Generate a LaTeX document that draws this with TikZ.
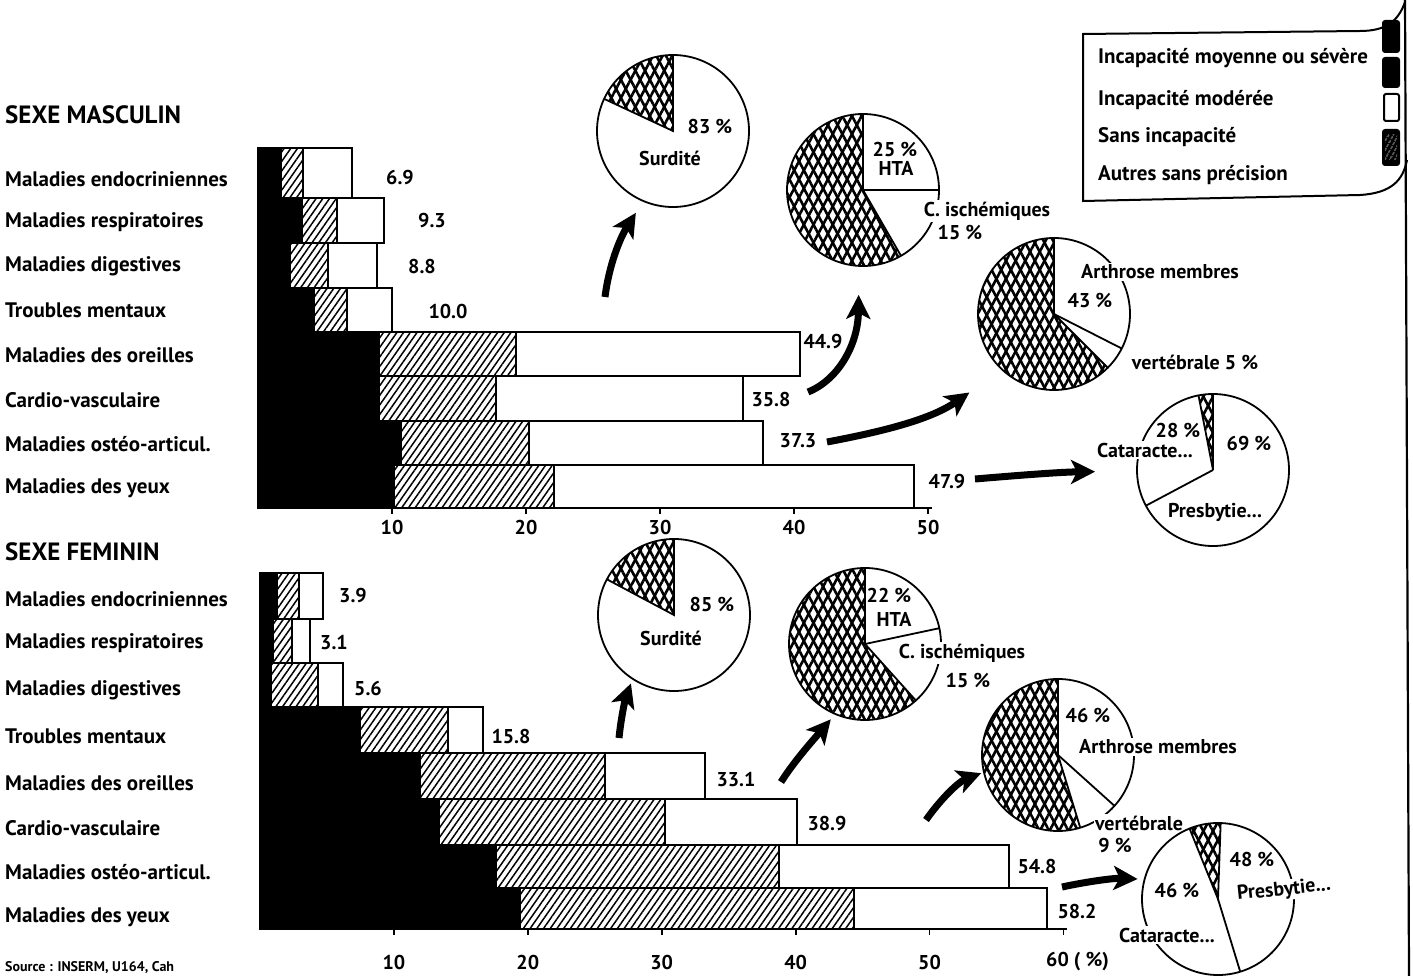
\documentclass[tikz,border=0pt]{standalone}
\usepackage{fontspec}
\setmainfont{PT Sans}
\usetikzlibrary{patterns.meta,arrows.meta}
\newcommand\xwedge[4]{%
  \fill[pattern={Lines[angle=62,distance=8.5pt,line width=2.6pt]}] (#1) -- ++(#2:#4) arc[start angle=#2,end angle=#3,radius=#4] -- cycle;
  \fill[pattern={Lines[angle=-62,distance=8.5pt,line width=2.6pt]}] (#1) -- ++(#2:#4) arc[start angle=#2,end angle=#3,radius=#4] -- cycle;}
\begin{document}
\begin{tikzpicture}[x=1pt,y=-1pt,
  txt/.style={font=\bfseries\fontsize{20}{22}\selectfont, inner sep=0pt},
  lbl/.style={font=\bfseries\fontsize{21}{23}\selectfont, inner sep=0pt, anchor=west},
  head/.style={font=\bfseries\fontsize{25}{27}\selectfont, inner sep=0pt, anchor=west},
  cut/.style={txt, fill=white, inner sep=1.5pt},
  barline/.style={line width=1.8pt},
  hatch/.style={pattern={Lines[angle=55,distance=5.5pt,line width=1.5pt]}},
  pienode/.style={circle, draw, fill=white, line width=1.8pt, minimum size=152pt, inner sep=0pt, outer sep=0pt},
  radius line/.style={line width=1.8pt},
  bigarrow/.style={line width=7pt, -{Stealth[length=24pt,width=24pt,inset=6pt]}},
]
\useasboundingbox (0,0) rectangle (1413,976);

% ---------- titles and row labels ----------
\node[head] (tm) at (5,115) {SEXE MASCULIN};
\node[head] (tf) at (5,552) {SEXE FEMININ};
\foreach \i/\y/\s in {1/179/Maladies endocriniennes,2/222/Maladies respiratoires,3/266/Maladies digestives,4/310/Troubles mentaux,5/355/Maladies des oreilles,6/400/Cardio-vasculaire,7/444/Maladies ostéo-articul.,8/488/Maladies des yeux}
  \node[lbl] (lm\i) at (5,\y) {\s};
\foreach \i/\y/\s in {1/599/Maladies endocriniennes,2/643/Maladies respiratoires,3/690/Maladies digestives,4/736/Troubles mentaux,5/783/Maladies des oreilles,6/828/Cardio-vasculaire,7/872/Maladies ostéo-articul.,8/917/Maladies des yeux}
  \node[lbl] (lf\i) at (5,\y) {\s};

% ---------- top bars ----------
\foreach \t/\b/\k/\h/\w in {148/198/282/303/352,198/243/303/337/384,243/288/291/328/377,288/332/315/347/392,332/376/380/516/800,376/421/380/496/743,421/465/402/529/763,465/508/395/554/914}{
  \fill[black] (258,\t) rectangle (\k,\b);
  \fill[hatch] (\k,\t) rectangle (\h,\b);
  \draw[barline] (258,\t) rectangle (\w,\b);
  \draw[barline] (\h,\t) -- (\h,\b);
}
\draw[barline] (258,508) -- (932,508);
\foreach \v in {10,20,30,40,50}{
  \draw[barline] ({258+13.4*\v},508) -- ++(0,6);
  \node[txt] (am\v) at ({258+13.4*\v},527) {\v};
}
\foreach \i/\x/\y/\s in {1/400/178/6.9,2/432/221/9.3,3/422/267/8.8,4/448/311/10.0,5/823/341/44.9,6/771/399/35.8,7/798/441/37.3,8/947/481/47.9}
  \node[txt] (vm\i) at (\x,\y) {\s};

% ---------- bottom bars ----------
\foreach \t/\b/\k/\h/\w in {573/619/278/299/323,619/663/274/292/310,663/707/272/318/343,707/753/361/448/483,753/799/421/605/705,799/845/440/665/797,845/888/497/779/1009,888/929/521/854/1047}{
  \fill[black] (260,\t) rectangle (\k,\b);
  \fill[hatch] (\k,\t) rectangle (\h,\b);
  \draw[barline] (260,\t) rectangle (\w,\b);
  \draw[barline] (\h,\t) -- (\h,\b);
}
\draw[barline] (260,929) -- (1067,929);
\foreach \v in {10,20,30,40,50,60}
  \draw[barline] ({260+13.39*\v},929) -- ++(0,6);
\foreach \v in {10,20,30,40,50}
  \node[txt] (af\v) at ({260+13.39*\v},962) {\v};
\node[txt, anchor=west] (af60) at (1046,962) {60 ( \%)};
\foreach \i/\x/\y/\s in {1/353/595/3.9,2/334/643/3.1,3/368/688/5.6,4/511/736/15.8,5/736/780/33.1,6/827/823/38.9,7/1037/866/54.8,8/1077/911/58.2}
  \node[txt] (vf\i) at (\x,\y) {\s};

% ---------- pies ----------
\node[pienode] (p1) at (673,131) {};
\xwedge{p1.center}{90}{155}{76pt}
\draw[radius line] (p1.90) -- (p1.center) -- (p1.155);
\node[txt] (p1a) at (710,127) {83 \%};
\node[txt] (p1b) at (670,158) {Surdité};

\node[pienode] (p2) at (863,190) {};
\xwedge{p2.center}{90}{300}{76pt}
\draw[radius line] (p2.90) -- (p2.center) -- (p2.0);
\draw[radius line] (p2.center) -- (p2.300);
\node[txt] (p2a) at (895,150) {25 \%};
\node[txt] (p2b) at (896,168) {HTA};
\node[cut] (p2c) at (987,211) {C. ischémiques};
\node[txt] (p2d) at (960,233) {15 \%};

\node[pienode] (p3) at (1054,314) {};
\xwedge{p3.center}{90}{315}{76pt}
\draw[radius line] (p3.90) -- (p3.center) -- (p3.333);
\draw[radius line] (p3.center) -- (p3.315);
\node[cut] (p3a) at (1160,272) {Arthrose membres};
\node[txt] (p3b) at (1090,300) {43 \%};
\node[cut] (p3c) at (1195,362) {vertébrale 5 \%};

\node[pienode] (p4) at (1213,470) {};
\xwedge{p4.center}{90}{101}{76pt}
\draw[radius line] (p4.90) -- (p4.center) -- (p4.101);
\draw[radius line] (p4.center) -- (p4.208);
\node[txt] (p4a) at (1178,430) {28 \%};
\node[cut] (p4b) at (1145,450) {Cataracte...};
\node[txt] (p4c) at (1249,443) {69 \%};
\node[cut] (p4d) at (1215,512) {Presbytie...};

\node[pienode] (p5) at (674,615) {};
\xwedge{p5.center}{90}{152}{76pt}
\draw[radius line] (p5.90) -- (p5.center) -- (p5.152);
\node[txt] (p5a) at (712,604) {85 \%};
\node[txt] (p5b) at (671,638) {Surdité};

\node[pienode] (p6) at (865,644) {};
\xwedge{p6.center}{90}{312}{76pt}
\draw[radius line] (p6.90) -- (p6.center) -- (p6.12);
\draw[radius line] (p6.center) -- (p6.312);
\node[txt] (p6a) at (889,595) {22 \%};
\node[txt] (p6b) at (894,619) {HTA};
\node[cut] (p6c) at (962,653) {C. ischémiques};
\node[txt] (p6d) at (968,680) {15 \%};

\node[pienode] (p7) at (1058,755) {};
\xwedge{p7.center}{90}{287}{76pt}
\draw[radius line] (p7.90) -- (p7.center) -- (p7.318);
\draw[radius line] (p7.center) -- (p7.287);
\node[txt] (p7a) at (1088,715) {46 \%};
\node[cut] (p7b) at (1158,747) {Arthrose membres};
\node[cut] (p7c) at (1139,823) {vertébrale};
\node[txt] (p7d) at (1115,845) {9 \%};

\node[pienode] (p8) at (1218,899) {};
\xwedge{p8.center}{88}{112}{76pt}
\draw[radius line] (p8.88) -- (p8.center) -- (p8.112);
\draw[radius line] (p8.center) -- (p8.287);
\node[txt] (p8a) at (1252,859) {48 \%};
\node[cut, rotate=6, inner sep=1pt] (p8b) at (1284,890) {Presbytie...};
\node[txt] (p8c) at (1177,890) {46 \%};
\node[cut] (p8d) at (1167,935) {Cataracte...};

% ---------- arrows ----------
\coordinate (tA) at (605,297);
\coordinate (tB) at (808,392);
\coordinate (tC) at (827,442);
\coordinate (tD) at (975,479);
\coordinate (tE) at (619,738);
\coordinate (tF) at (781,782);
\coordinate (tG) at (926,820);
\coordinate (tH) at (1062,887);
\draw[bigarrow, shorten >=14pt] (tA) .. controls (609,265) and (620,238) .. (p1.247);
\draw[bigarrow, shorten >=29pt] (tB) .. controls (838,380) and (858,345) .. (p2.267);
\draw[bigarrow, shorten >=40pt] (tC) .. controls (880,432) and (930,420) .. (p3.227);
\draw[bigarrow, shorten >=42pt] (tD) .. controls (1010,476) and (1060,472) .. (p4.181);
\draw[bigarrow, shorten >=5pt] (tE) .. controls (621,718) and (625,700) .. (p5.237);
\draw[bigarrow, shorten >=7pt] (tF) .. controls (795,760) and (815,738) .. (p6.247);
\draw[bigarrow, shorten >=3pt] (tG) .. controls (940,800) and (958,782) .. (p7.193);
\draw[bigarrow, shorten >=7pt] (tH) .. controls (1090,881) and (1115,878) .. (p8.165);

% ---------- legend ----------
\draw[line width=2.2pt] (1405,0) -- (1409,976);
\draw[line width=2pt] (1405,2) .. controls (1398,22) and (1385,31) .. (1360,31) -- (1083,34) -- (1083,201) -- (1360,195) .. controls (1392,193) and (1403,180) .. (1407,160);
\node[lbl] (g1) at (1098,58) {Incapacité moyenne ou sévère};
\node[lbl] (g2) at (1098,100) {Incapacité modérée};
\node[lbl] (g3) at (1098,137) {Sans incapacité};
\node[lbl] (g4) at (1098,175) {Autres sans précision};
\fill[rounded corners=3pt] (1382,20) rectangle (1400,53);
\fill[rounded corners=3pt] (1382,57) rectangle (1400,88);
\draw[line width=2pt, rounded corners=2pt] (1384,94) rectangle (1399,121);
\fill[rounded corners=3pt] (1382,129) rectangle (1400,166);
\fill[pattern={Lines[angle=62,distance=4pt,line width=0.6pt]}, pattern color=white] (1385,135) rectangle (1397,160);

% ---------- source ----------
\node[font=\bfseries\fontsize{14}{16}\selectfont, inner sep=0pt, anchor=south west] (src) at (5,974) {Source : INSERM, U164, Cah};
\end{tikzpicture}
\end{document}
